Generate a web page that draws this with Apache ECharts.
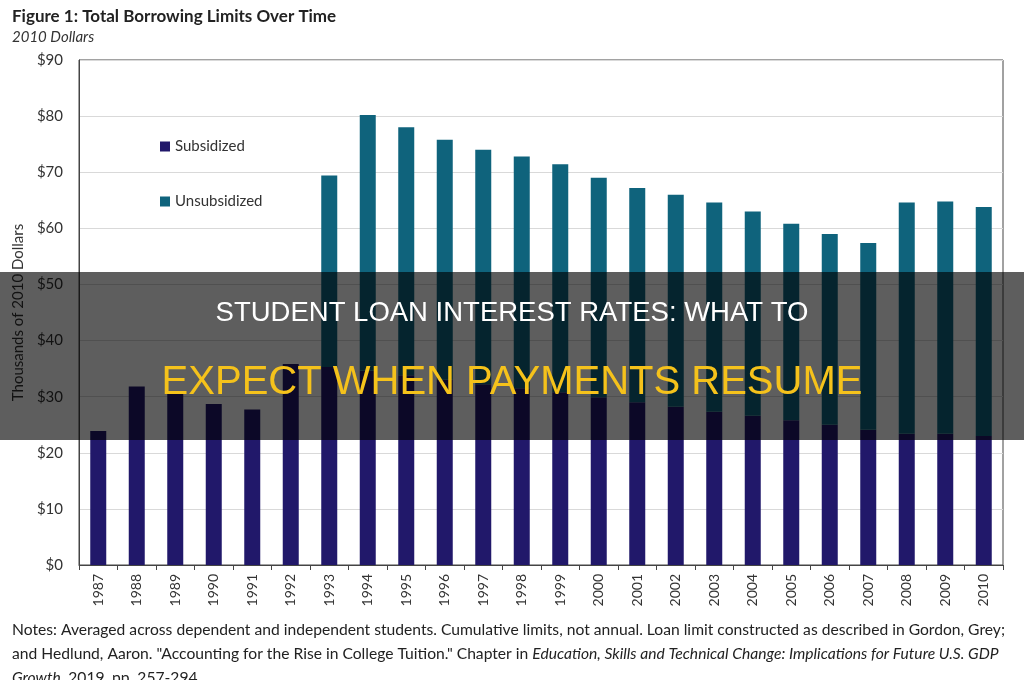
<!DOCTYPE html>
<html>
<head>
<meta charset="utf-8">
<script src="https://cdn.jsdelivr.net/npm/echarts@6/dist/echarts.min.js"></script>
<style>
html,body{margin:0;padding:0;background:#fff;}
#chart{width:1024px;height:680px;}
</style>
</head>
<body>
<div id="chart"></div>
<script>
const years = ['1987','1988','1989','1990','1991','1992','1993','1994','1995','1996','1997','1998','1999','2000','2001','2002','2003','2004','2005','2006','2007','2008','2009','2010'];
const subsidized = [23.9,31.8,30.6,28.7,27.7,35.8,35.3,34.6,33.8,33.0,32.2,31.5,30.8,29.9,29.0,28.2,27.3,26.6,25.8,25.0,24.1,23.4,23.4,23.0];
const unsubsidized = [0,0,0,0,0,0,34.1,45.6,44.2,42.8,41.8,41.3,40.6,39.1,38.2,37.8,37.3,36.4,35.0,34.0,33.3,41.2,41.4,40.8];
const notesLine1 = 'Notes: Averaged across dependent and independent students. Cumulative limits, not annual. Loan limit constructed as described in Gordon, Grey;';

const chart = echarts.init(document.getElementById('chart'));
const font = 'Lato, "Open Sans", sans-serif';
const notesFont = 'Lato, "Open Sans", sans-serif';

// compress notes horizontally to the reference width
const cv = document.createElement('canvas').getContext('2d');
cv.font = '15px ' + notesFont;
const notesScale = 993 / cv.measureText(notesLine1).width;

chart.setOption({
  animation: false,
  backgroundColor: '#fff',
  grid: {left: 79, right: 21, top: 60, bottom: 115, show: true, borderColor: '#444', borderWidth: 1, backgroundColor: 'transparent'},
  legend: {
    orient: 'vertical', left: 160, top: 139, itemGap: 40, itemWidth: 10, itemHeight: 10, icon: 'rect', padding: 0,
    textStyle: {fontFamily: font, fontSize: 15, color: '#333'},
    data: ['Subsidized','Unsubsidized']
  },
  xAxis: {
    type: 'category', data: years,
    axisLine: {lineStyle: {color: '#444'}},
    axisTick: {show: true, length: 5, lineStyle: {color: '#444'}},
    axisLabel: {rotate: 90, fontFamily: font, fontSize: 14, color: '#333', margin: 9}
  },
  yAxis: {
    type: 'value', min: 0, max: 90, interval: 10,
    name: 'Thousands of 2010 Dollars', nameLocation: 'middle', nameGap: 52, nameRotate: 90,
    nameTextStyle: {fontFamily: font, fontSize: 15, color: '#333'},
    axisLine: {show: true, lineStyle: {color: '#444'}},
    axisTick: {show: false},
    splitLine: {lineStyle: {color: '#d9d9d9'}},
    axisLabel: {fontFamily: font, fontSize: 15, color: '#333', margin: 16, formatter: v => '$' + v}
  },
  series: [
    {name: 'Subsidized', type: 'bar', stack: 'total', data: subsidized, barWidth: 16, itemStyle: {color: '#21186a'}},
    {name: 'Unsubsidized', type: 'bar', stack: 'total', data: unsubsidized, barWidth: 16, itemStyle: {color: '#0f637c'}}
  ],
  graphic: [
    {type: 'text', left: 12, top: 8, style: {text: 'Figure 1: Total Borrowing Limits Over Time', font: 'bold 17px ' + font, fill: '#222'}},
    {type: 'text', left: 12, top: 30, style: {text: '2010 Dollars', font: 'italic 15px ' + font, fill: '#333'}},
    {type: 'text', x: 12, y: 618, scaleX: notesScale, style: {
      text: '{n|' + notesLine1 + '}\n{n|and Hedlund, Aaron. "Accounting for the Rise in College Tuition." Chapter in }{i|Education, Skills and Technical Change: Implications for Future U.S. GDP}\n{i|Growth}{n|, 2019, pp. 257-294.}',
      rich: {
        n: {fontFamily: notesFont, fontSize: 15, fill: '#222', lineHeight: 24},
        i: {fontFamily: notesFont, fontSize: 15, fontStyle: 'italic', fill: '#222', lineHeight: 24}
      }
    }},
    {type: 'rect', z: 100, shape: {x: 0, y: 272, width: 1024, height: 168}, style: {fill: 'rgba(0,0,0,0.63)'}},
    {type: 'text', z: 101, x: 512, y: 313, style: {text: 'STUDENT LOAN INTEREST RATES: WHAT TO', font: '27.5px "Liberation Sans", Arial, sans-serif', fill: '#ffffff', align: 'center', verticalAlign: 'middle'}},
    {type: 'text', z: 101, x: 512, y: 383, style: {text: 'EXPECT WHEN PAYMENTS RESUME', font: '40px "Liberation Sans", Arial, sans-serif', fill: '#f5c21b', align: 'center', verticalAlign: 'middle'}}
  ]
});
</script>
</body>
</html>
